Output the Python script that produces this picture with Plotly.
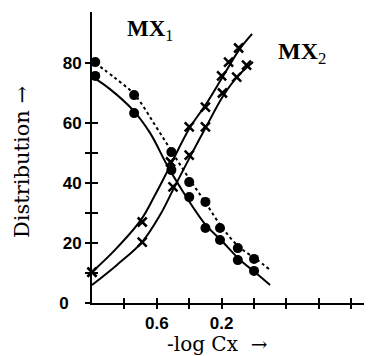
import plotly.graph_objects as go

# ---- data ----
# MX1 (filled circles): two data sets at the same -log Cx positions
mx1_x = [0.98, 0.74, 0.51, 0.40, 0.30, 0.21, 0.10, 0.00]
mx1_upper = [80.3, 69.3, 50.3, 40.3, 33.7, 25.0, 18.3, 14.7]
mx1_lower = [75.7, 63.3, 44.3, 35.3, 25.0, 21.0, 14.3, 10.7]

# MX2 (crosses)
mx2_upper_x = [1.00, 0.69, 0.515, 0.40, 0.30, 0.20, 0.157, 0.095]
mx2_upper = [10.3, 27.0, 47.0, 58.7, 65.3, 75.7, 80.3, 85.0]
mx2_lower_x = [1.00, 0.69, 0.50, 0.40, 0.30, 0.195, 0.107, 0.046]
mx2_lower = [10.3, 20.3, 38.7, 49.3, 58.7, 70.0, 75.3, 79.3]

# fitted curves
fit_mx1_solid_x = [0.994, 0.889, 0.747, 0.642, 0.537, 0.457, 0.302, 0.204, 0.093, -0.012, -0.099]
fit_mx1_solid_y = [75.3, 71.3, 64.3, 56.7, 46.0, 38.7, 26.3, 21.0, 14.7, 10.0, 6.0]
fit_mx1_dot_x = [0.981, 0.858, 0.735, 0.611, 0.506, 0.395, 0.302, 0.204, 0.093, -0.012, -0.099]
fit_mx1_dot_y = [80.0, 75.0, 69.3, 59.3, 50.3, 41.0, 33.7, 25.7, 18.7, 14.7, 11.0]
fit_mx2_upper_x = [1.0, 0.858, 0.698, 0.611, 0.531, 0.401, 0.296, 0.198, 0.093, 0.012]
fit_mx2_upper_y = [10.3, 17.7, 27.7, 36.0, 44.3, 58.0, 66.3, 75.0, 84.3, 89.7]
fit_mx2_lower_x = [1.0, 0.846, 0.691, 0.580, 0.500, 0.395, 0.296, 0.191, 0.105, 0.006]
fit_mx2_lower_y = [6.0, 12.7, 20.3, 29.3, 37.7, 48.7, 58.7, 69.0, 75.3, 80.3]

# axes
x_label_vals = [0.6, 0.2]
x_label_text = ["0.6", "0.2"]
x_all_ticks = [0.8, 0.6, 0.4, 0.2, 0.0, -0.2, -0.4, -0.6]
y_label_vals = [0, 20, 40, 60, 80]
y_label_text = ["0\u2007\u2009", "20", "40", "60", "80"]
y_all_ticks = [10, 20, 30, 40, 50, 60, 80]
x_range = [1.0, -0.728]
y_range = [0, 97]

BLACK = "#000000"
fig = go.Figure()

line_w = 2
fig.add_trace(go.Scatter(x=fit_mx1_solid_x, y=fit_mx1_solid_y, mode="lines",
                         line=dict(color=BLACK, width=line_w, shape="spline"), cliponaxis=False))
fig.add_trace(go.Scatter(x=fit_mx1_dot_x, y=fit_mx1_dot_y, mode="lines",
                         line=dict(color=BLACK, width=line_w, shape="spline", dash="dot"), cliponaxis=False))
fig.add_trace(go.Scatter(x=fit_mx2_upper_x, y=fit_mx2_upper_y, mode="lines",
                         line=dict(color=BLACK, width=line_w, shape="spline"), cliponaxis=False))
fig.add_trace(go.Scatter(x=fit_mx2_lower_x, y=fit_mx2_lower_y, mode="lines",
                         line=dict(color=BLACK, width=line_w, shape="spline"), cliponaxis=False))

circ = dict(symbol="circle", size=10, color=BLACK)
fig.add_trace(go.Scatter(x=mx1_x, y=mx1_upper, mode="markers", marker=circ, cliponaxis=False))
fig.add_trace(go.Scatter(x=mx1_x, y=mx1_lower, mode="markers", marker=circ, cliponaxis=False))

cross = dict(symbol="x-thin", size=9, color=BLACK, line=dict(color=BLACK, width=2.5))
fig.add_trace(go.Scatter(x=mx2_upper_x, y=mx2_upper, mode="markers", marker=cross, cliponaxis=False))
fig.add_trace(go.Scatter(x=mx2_lower_x, y=mx2_lower, mode="markers", marker=cross, cliponaxis=False))

# invisible trace to carry the overlay axes (inner halves of the crossing ticks)
fig.add_trace(go.Scatter(x=[None], y=[None], xaxis="x2", yaxis="y2", mode="markers",
                         marker=dict(opacity=0), hoverinfo="skip"))

tick_font = dict(family="Liberation Sans, Arial, sans-serif", size=17, color=BLACK, weight="bold")
serif = "DejaVu Serif, serif"

# the page body adds an 8px offset; the figure is sized/margined to compensate
fig.update_layout(
    width=364, height=348,
    margin=dict(l=84, r=0, t=4, b=53),
    plot_bgcolor="white", paper_bgcolor="white",
    showlegend=False,
    xaxis=dict(range=x_range, showline=True, linecolor=BLACK, linewidth=2,
               ticks="outside", ticklen=4, tickwidth=1.5, tickcolor=BLACK,
               tickmode="array", tickvals=x_label_vals, ticktext=x_label_text,
               minor=dict(tickmode="array", tickvals=x_all_ticks, ticks="outside",
                          ticklen=4, tickwidth=1.5, tickcolor=BLACK, showgrid=False),
               tickfont=tick_font, showgrid=False, zeroline=False),
    yaxis=dict(range=y_range, showline=True, linecolor=BLACK, linewidth=2,
               ticks="outside", ticklen=5, tickwidth=1.5, tickcolor=BLACK,
               tickmode="array", tickvals=y_label_vals, ticktext=y_label_text,
               minor=dict(tickmode="array", tickvals=y_all_ticks, ticks="outside",
                          ticklen=5, tickwidth=1.5, tickcolor=BLACK, showgrid=False),
               tickfont=tick_font, showgrid=False, zeroline=False),
    xaxis2=dict(range=x_range, overlaying="x", anchor="y2", side="bottom",
                ticks="inside", ticklen=5, tickwidth=1.5, tickcolor=BLACK,
                tickmode="array", tickvals=x_all_ticks, showticklabels=False,
                showgrid=False, zeroline=False, showline=False),
    yaxis2=dict(range=y_range, overlaying="y", anchor="x2", side="left",
                ticks="inside", ticklen=6, tickwidth=1.5, tickcolor=BLACK,
                tickmode="array", tickvals=y_all_ticks, showticklabels=False,
                showgrid=False, zeroline=False, showline=False),
    annotations=[
        dict(text="<b>MX</b><sub>1</sub>", x=0.642, y=91.0, xref="x", yref="y",
             xanchor="center", yanchor="middle",
             showarrow=False, font=dict(family="Liberation Serif, serif", size=23, color=BLACK)),
        dict(text="<b>MX</b><sub>2</sub>", x=-0.296, y=83.3, xref="x", yref="y",
             xanchor="center", yanchor="middle",
             showarrow=False, font=dict(family="Liberation Serif, serif", size=24, color=BLACK)),
        dict(text="Distribution \u2192", x=-0.25, y=0.4845, xref="paper", yref="paper",
             xanchor="center", yanchor="middle",
             textangle=-90, showarrow=False, font=dict(family=serif, size=21, color=BLACK)),
        dict(text="-log Cx\u00a0\u00a0\u2192", x=0.448, y=-0.142, xref="paper", yref="paper",
             xanchor="center", yanchor="middle",
             showarrow=False, font=dict(family=serif, size=20, color=BLACK)),
    ],
)

fig.write_html("out.html")
